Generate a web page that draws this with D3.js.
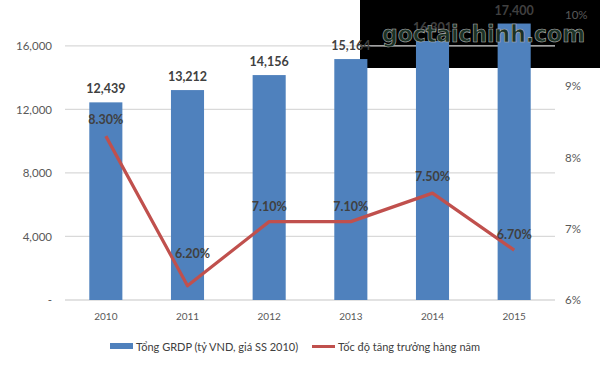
<!DOCTYPE html>
<html><head><meta charset="utf-8">
<script src="https://cdn.jsdelivr.net/npm/d3@7/dist/d3.min.js"></script>
<style>body{margin:0;background:#fff;}svg{display:block;}</style>
</head><body>
<svg id="c" width="600" height="366"></svg>
<script>
const years = ["2010","2011","2012","2013","2014","2015"];
const grdp = [12439, 13212, 14156, 15164, 16301, 17400];
const growth = [8.3, 6.2, 7.1, 7.1, 7.5, 6.7];
const leftTicks = [0, 4000, 8000, 12000, 16000];
const rightTicks = [6, 7, 8, 9, 10];
const labelOffsets = [16, 32, 15, 15, 16, 15];

const svg = d3.select("#c");
const W = 600, H = 366;
const m = {l: 65, r: 45, t: 14, b: 66};
const font = "Lato, 'Open Sans', sans-serif";

// watermark background box
svg.append("rect").attr("x", 360).attr("y", 0).attr("width", 240).attr("height", 68).attr("fill", "#000");

const x = d3.scaleBand().domain(years).range([m.l, W - m.r]).paddingInner(0.595).paddingOuter(0.2975);
const yL = d3.scaleLinear().domain([0, 18000]).range([H - m.b, m.t]);
const yR = d3.scaleLinear().domain([6, 10]).range([H - m.b, m.t + 1]);

// gridlines
svg.append("g").selectAll("line").data(leftTicks).join("line")
  .attr("x1", m.l).attr("x2", W - m.r)
  .attr("y1", d => yL(d)).attr("y2", d => yL(d))
  .attr("stroke", "#d9d9d9").attr("stroke-width", 1.3);

// left axis
const axL = svg.append("g").attr("transform", `translate(${m.l},0)`)
  .call(d3.axisLeft(yL).tickValues(leftTicks).tickSize(0).tickPadding(13)
    .tickFormat(d => d === 0 ? "-" : d3.format(",")(d)));
axL.select(".domain").remove();
axL.selectAll("text").attr("font-family", font).attr("font-size", 11.5).attr("fill", "#595959");

// right axis
const axR = svg.append("g").attr("transform", `translate(${W - m.r},0)`)
  .call(d3.axisRight(yR).tickValues(rightTicks).tickSize(0).tickPadding(10)
    .tickFormat(d => d + "%"));
axR.select(".domain").remove();
axR.selectAll("text").attr("font-family", font).attr("font-size", 11.5).attr("fill", "#595959");

// x axis
const axX = svg.append("g").attr("transform", `translate(0,${H - m.b})`)
  .call(d3.axisBottom(x).tickSize(0).tickPadding(13));
axX.select(".domain").remove();
axX.selectAll("text").attr("font-family", font).attr("font-size", 10).attr("fill", "#595959");

// bars
svg.append("g").selectAll("rect").data(grdp).join("rect")
  .attr("x", (d, i) => x(years[i])).attr("width", x.bandwidth())
  .attr("y", d => yL(d)).attr("height", d => yL(0) - yL(d))
  .attr("fill", "#4F81BD");

// bar labels
svg.append("g").selectAll("text").data(grdp).join("text")
  .attr("x", (d, i) => x(years[i]) + x.bandwidth() / 2)
  .attr("y", d => yL(d) - 9)
  .attr("text-anchor", "middle").attr("font-family", font).attr("font-weight", "bold")
  .attr("font-size", 12.5).attr("fill", "#404040")
  .text(d => d3.format(",")(d));

// line
const line = d3.line().x((d, i) => x(years[i]) + x.bandwidth() / 2).y(d => yR(d));
svg.append("path").datum(growth).attr("d", line)
  .attr("fill", "none").attr("stroke", "#C0504D").attr("stroke-width", 3.2)
  .attr("stroke-linejoin", "round");

// line labels
svg.append("g").selectAll("text").data(growth).join("text")
  .attr("x", (d, i) => x(years[i]) + x.bandwidth() / 2 + (i === 1 ? 5 : 0))
  .attr("y", (d, i) => yR(d) - labelOffsets[i] + 4)
  .attr("text-anchor", "middle").attr("font-family", font).attr("font-weight", "bold")
  .attr("font-size", 12.5).attr("fill", "#404040")
  .text(d => d.toFixed(2) + "%");

// legend
const lg = svg.append("g");
lg.append("rect").attr("x", 110).attr("y", 343).attr("width", 23).attr("height", 6).attr("fill", "#4F81BD");
lg.append("text").attr("x", 136).attr("y", 350.5).attr("font-family", font).attr("font-size", 11)
  .attr("fill", "#404040").text("Tổng GRDP (tỷ VND, giá SS 2010)");
lg.append("line").attr("x1", 312).attr("x2", 335).attr("y1", 346.5).attr("y2", 346.5)
  .attr("stroke", "#C0504D").attr("stroke-width", 3);
lg.append("text").attr("x", 338).attr("y", 350.5).attr("font-family", font).attr("font-size", 11)
  .attr("fill", "#404040").text("Tốc độ tăng trưởng hàng năm");

// watermark text
svg.append("text").attr("x", 382).attr("y", 42).attr("font-family", "'DejaVu Sans', sans-serif")
  .attr("font-weight", "bold").attr("font-size", 23).attr("textLength", 203).attr("lengthAdjust", "spacingAndGlyphs")
  .attr("fill", "#1b3125").attr("stroke", "#b4b4b4").attr("stroke-width", 0.6)
  .text("goctaichinh.com");
</script>
</body></html>
